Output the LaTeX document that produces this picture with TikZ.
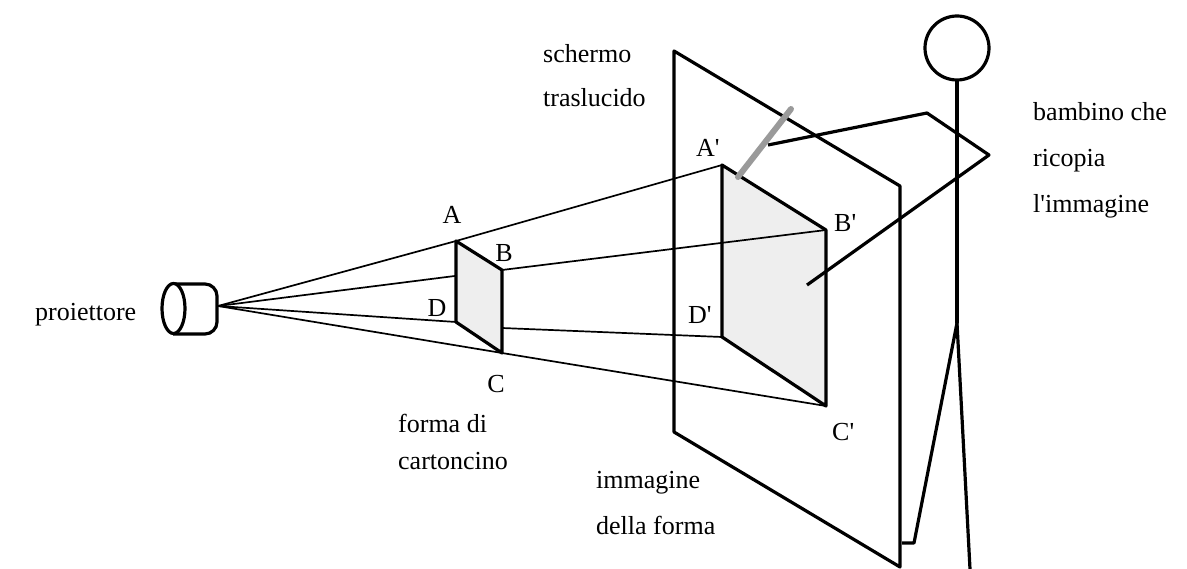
\documentclass[tikz,border=0pt]{standalone}
\usepackage{fontspec}
\setmainfont{Liberation Serif}
\definecolor{facegray}{HTML}{EEEEEE}
\definecolor{pencilgray}{HTML}{9A9A9A}
\newcommand{\apo}{\textquotesingle}
\begin{document}
\begin{tikzpicture}[x=1pt,y=-1pt,
  bold/.style={line width=3.2pt, line join=round},
  ray/.style={line width=1.7pt},
  face/.style={bold, fill=facegray},
  txt/.style={font=\fontsize{26}{26}\selectfont, inner sep=0pt, anchor=base west},
  ctxt/.style={font=\fontsize{26}{26}\selectfont, inner sep=0pt, anchor=base},
]
\useasboundingbox (0,0) rectangle (1187,569);

% projector
\coordinate (P) at (218,306);
% cardboard shape
\coordinate (A) at (456,241);
\coordinate (B) at (502,270);
\coordinate (C) at (502,353);
\coordinate (D) at (456,322);
\coordinate (Dx) at (502,328);
% its image on the screen
\coordinate (A') at (722,165);
\coordinate (B') at (826,230);
\coordinate (C') at (826,406);
\coordinate (D') at (722,337);
% screen corners
\coordinate (S1) at (674,51);
\coordinate (S2) at (900,186);
\coordinate (S3) at (900,567);
\coordinate (S4) at (674,432);

% translucent screen
\draw[bold] (S1) -- (S2) -- (S3) -- (S4) -- cycle;

% projected image
\draw[face] (A') -- (B') -- (C') -- (D') -- cycle;

% light rays
\draw[ray] (P) -- (A) -- (A');
\draw[ray] (P) -- (B) -- (B');
\draw[ray] (P) -- (D);
\draw[ray] (Dx) -- (D');
\draw[ray] (P) -- (C) -- (C');

% cardboard shape
\draw[face] (A) -- (B) -- (C) -- (D) -- cycle;

% projector body
\draw[bold, rounded corners=12pt] (173,284) -- (217,284) -- (217,334) -- (173,334);
\draw[bold, fill=white] (173.5,308.5) ellipse [x radius=11.5, y radius=25];

% child
\coordinate (Neck) at (957,80);
\coordinate (Hip) at (957,323);
\coordinate (Shoulder) at (768,145);
\coordinate (Elbow1) at (927,113);
\coordinate (Elbow2) at (989,155);
\coordinate (Hand) at (807,285);
\coordinate (Knee) at (914,543);
\coordinate (Foot) at (902,543);
\coordinate (Foot2) at (970,569);
\draw[bold] (957,48) circle [radius=32];
\draw[bold] (Neck) -- (Hip);
\draw[bold] (Hip) -- (Knee) -- (Foot);
\draw[bold] (Hip) -- (Foot2);
\draw[bold] (Shoulder) -- (Elbow1) -- (Elbow2) -- (Hand);

% pencil
\coordinate (PenTop) at (791,109);
\coordinate (PenTip) at (738,177);
\draw[line width=6pt, pencilgray, line cap=round] (PenTop) -- (PenTip);

% corner letters
\node[ctxt] (lA) at (452,224) {A};
\node[ctxt] (lB) at (504,262) {B};
\node[ctxt] (lD) at (437,317) {D};
\node[ctxt] (lC) at (496,393) {C};
\node[txt] (lA') at (696,157) {A\apo};
\node[txt] (lB') at (834,232) {B\apo};
\node[txt] (lD') at (688,324) {D\apo};
\node[txt] (lC') at (832,440) {C\apo};

% captions
\node[txt] (t1) at (35,321) {proiettore};
\node[txt] (t2) at (543,63) {schermo};
\node[txt] (t3) at (543,107) {traslucido};
\node[txt] (t4) at (398,432) {forma di};
\node[txt] (t5) at (398,469) {cartoncino};
\node[txt] (t6) at (596,489) {immagine};
\node[txt] (t7) at (596,534) {della forma};
\node[txt] (t8) at (1033,121) {bambino che};
\node[txt] (t9) at (1033,167) {ricopia};
\node[txt] (t10) at (1033,213) {l\apo immagine};
\end{tikzpicture}
\end{document}
